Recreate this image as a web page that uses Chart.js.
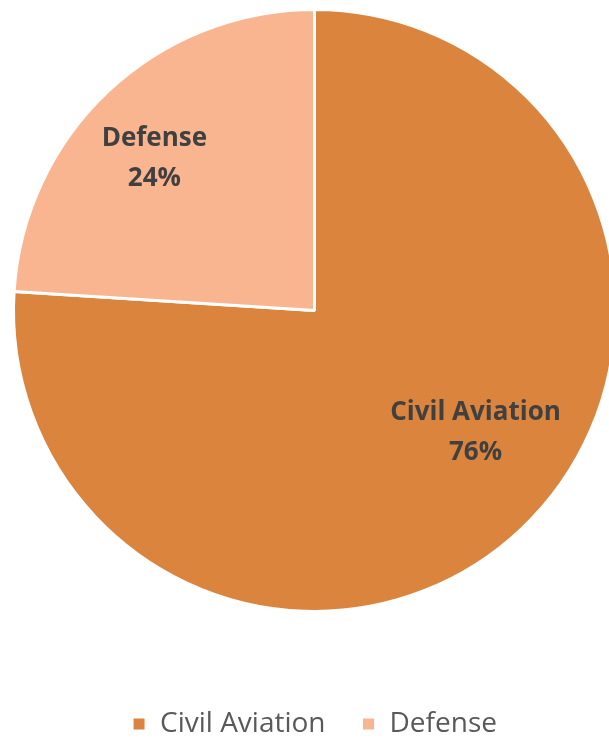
<!DOCTYPE html>
<html>
<head>
<meta charset="utf-8">
<script src="https://cdn.jsdelivr.net/npm/chart.js@4.4.1/dist/chart.umd.min.js"></script>
<style>
    html, body { margin: 0; padding: 0; background: #fff; overflow: hidden; }
    #wrap { width: 630px; height: 750px; }
</style>
</head>
<body>
<div id="wrap"><canvas id="pieChart"></canvas></div>
<script>
// Datos del gráfico
const segmentos = ['Civil Aviation', 'Defense'];
const porcentajes = [76, 24];
const colores = ['#DB843D', '#F9B590'];

// posición de cada etiqueta, en fracción del radio (x, y desde el centro)
const posEtiquetas = [[0.535, 0.405], [-0.532, -0.505]];

// Plugin simple para escribir nombre + porcentaje dentro de cada porción
const etiquetasPlugin = {
    id: 'etiquetas',
    afterDatasetsDraw(chart) {
        const ctx = chart.ctx;
        const meta = chart.getDatasetMeta(0);
        ctx.save();
        ctx.fillStyle = '#404040';
        ctx.font = 'bold 26px "Open Sans"';
        ctx.textAlign = 'center';
        ctx.textBaseline = 'middle';
        meta.data.forEach((arc, i) => {
            const r = arc.outerRadius;
            const x = arc.x + posEtiquetas[i][0] * r;
            const y = arc.y + posEtiquetas[i][1] * r;
            ctx.fillText(segmentos[i], x, y - 20);
            ctx.fillText(porcentajes[i] + '%', x, y + 20);
        });
        ctx.restore();
    }
};

const ctx = document.getElementById('pieChart').getContext('2d');
new Chart(ctx, {
    type: 'pie',
    data: {
        labels: segmentos,
        datasets: [{
            data: porcentajes,
            backgroundColor: colores,
            borderColor: '#FFFFFF',
            borderWidth: 3
        }]
    },
    options: {
        responsive: true,
        maintainAspectRatio: false,
        animation: false,
        layout: {
            padding: { top: 6, left: 12, right: 13, bottom: 2 }
        },
        plugins: {
            tooltip: { enabled: false },
            legend: {
                position: 'bottom',
                // título vacío solo para separar la leyenda del gráfico
                title: {
                    display: true,
                    text: ' ',
                    font: { size: 1 },
                    padding: { top: 58, bottom: 0 }
                },
                labels: {
                    color: '#595959',
                    font: { family: '"Open Sans"', size: 28 },
                    boxWidth: 14,
                    boxHeight: 14,
                    padding: 36
                }
            }
        }
    },
    plugins: [etiquetasPlugin]
});
</script>
</body>
</html>
